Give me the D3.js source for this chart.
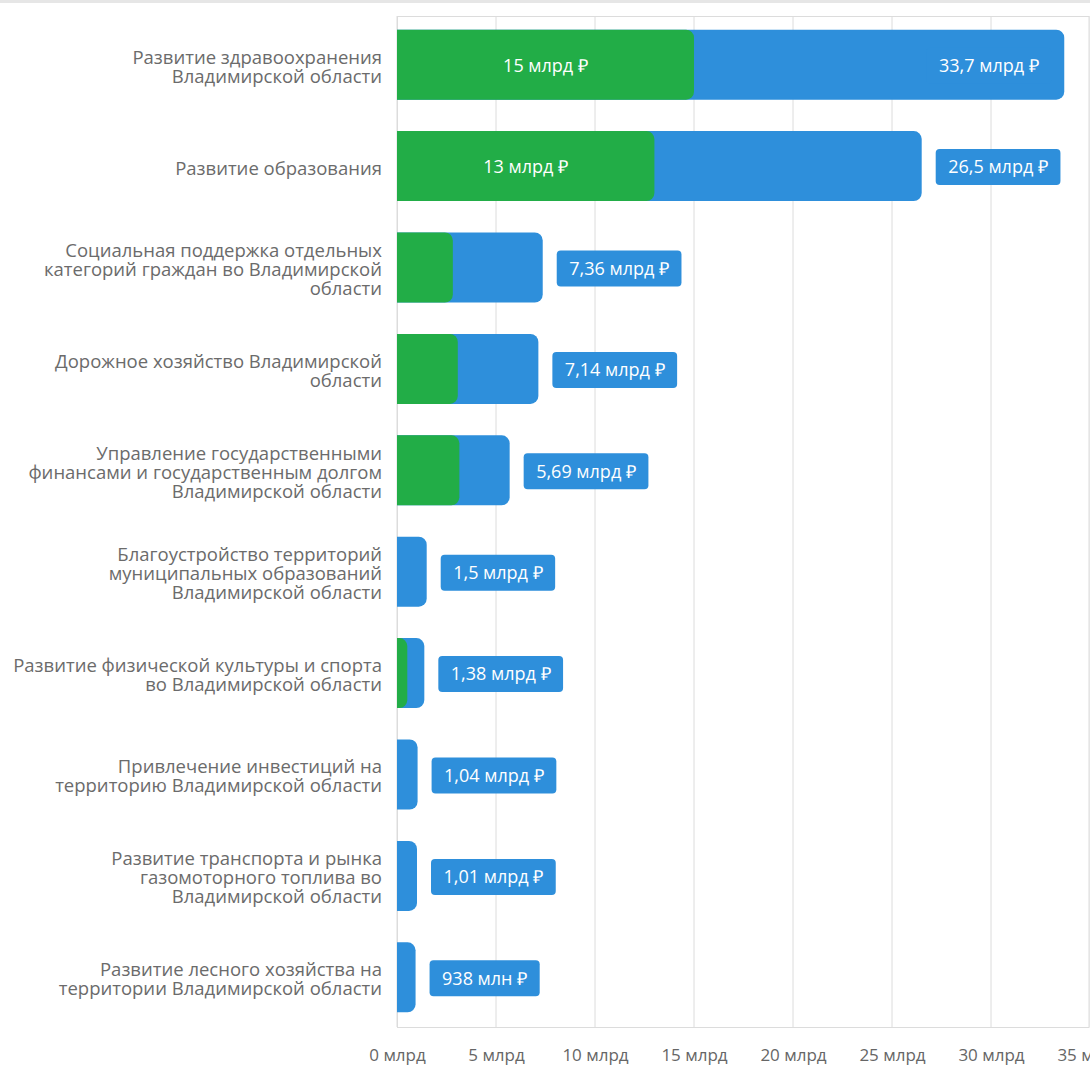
<!DOCTYPE html>
<html>
<head>
<meta charset="utf-8">
<script src="https://cdn.jsdelivr.net/npm/d3@7"></script>
<style>
  body { margin: 0; background: #fff; }
  text { font-family: "Open Sans", sans-serif; }
</style>
</head>
<body>
<div id="chart"></div>
<script>
var svgWidth = 1090;
var svgHeight = 1074;

// program names, line breaks as in the picture
var categories = [
  "Развитие здравоохранения\nВладимирской области",
  "Развитие образования",
  "Социальная поддержка отдельных\nкатегорий граждан во Владимирской\nобласти",
  "Дорожное хозяйство Владимирской\nобласти",
  "Управление государственными\nфинансами и государственным долгом\nВладимирской области",
  "Благоустройство территорий\nмуниципальных образований\nВладимирской области",
  "Развитие физической культуры и спорта\nво Владимирской области",
  "Привлечение инвестиций на\nтерриторию Владимирской области",
  "Развитие транспорта и рынка\nгазомоторного топлива во\nВладимирской области",
  "Развитие лесного хозяйства на\nтерритории Владимирской области"
];

// totals, billions of rubles
var totalValues = [33.7, 26.5, 7.36, 7.14, 5.69, 1.5, 1.38, 1.04, 1.01, 0.938];
// green part, billions of rubles
var greenValues = [15, 13, 2.82, 3.07, 3.15, 0, 0.52, 0, 0, 0.25];

var totalLabels = ["33,7 млрд ₽", "26,5 млрд ₽", "7,36 млрд ₽", "7,14 млрд ₽", "5,69 млрд ₽",
  "1,5 млрд ₽", "1,38 млрд ₽", "1,04 млрд ₽", "1,01 млрд ₽", "938 млн ₽"];
var greenLabels = ["15 млрд ₽", "13 млрд ₽", "", "", "", "", "", "", "", ""];

var xTicks = [0, 5, 10, 15, 20, 25, 30, 35];

var plot = { left: 397, right: 1090, top: 16, bottom: 1027 };

var blue = "#2e8fdb";
var green = "#22ad47";

var svg = d3.select("#chart")
  .append("svg")
  .attr("width", svgWidth)
  .attr("height", svgHeight);

// thin grey strip on top of the page
svg.append("rect")
  .attr("x", 0).attr("y", 0)
  .attr("width", svgWidth).attr("height", 3)
  .attr("fill", "#e6e6e6");

var x = d3.scaleLinear()
  .domain([0, 35])
  .range([plot.left, plot.right]);

var y = d3.scaleBand()
  .domain(d3.range(categories.length))
  .range([14, 1028])
  .paddingInner(0.31)
  .paddingOuter(0.155);

// gridlines
svg.append("g")
  .selectAll("line")
  .data(xTicks)
  .enter()
  .append("line")
  .attr("x1", d => x(d))
  .attr("x2", d => x(d))
  .attr("y1", plot.top)
  .attr("y2", plot.bottom)
  .attr("stroke", "#dcdcdc")
  .attr("stroke-width", 1);

// frame
svg.append("rect")
  .attr("x", plot.left + 0.5)
  .attr("y", plot.top + 0.5)
  .attr("width", plot.right - plot.left - 1.5)
  .attr("height", plot.bottom - plot.top)
  .attr("fill", "none")
  .attr("stroke", "#dcdcdc");

// x axis labels
var xAxis = svg.append("g")
  .attr("transform", `translate(0, ${plot.bottom})`)
  .call(d3.axisBottom(x).tickValues(xTicks).tickSize(0).tickPadding(22)
    .tickFormat(d => d + " млрд"));
xAxis.select(".domain").remove();
xAxis.selectAll("text")
  .attr("fill", "#666")
  .style("font-size", "17px")
  .style("font-family", "'Open Sans', sans-serif");

// bar with square left side and rounded right corners
function barPath(x0, x1, y0, h, r) {
  var w = x1 - x0;
  r = Math.min(r, w, h / 2);
  return `M${x0},${y0}H${x1 - r}A${r},${r} 0 0 1 ${x1},${y0 + r}` +
    `V${y0 + h - r}A${r},${r} 0 0 1 ${x1 - r},${y0 + h}H${x0}Z`;
}

var rows = svg.append("g")
  .selectAll("g")
  .data(categories)
  .enter()
  .append("g");

rows.append("path")
  .attr("d", (d, i) => barPath(x(0), x(totalValues[i]), y(i), y.bandwidth(), 8))
  .attr("fill", blue);

rows.filter((d, i) => greenValues[i] > 0)
  .append("path")
  .attr("d", (d, i) => barPath(x(0), x(greenValues[i]), y(i), y.bandwidth(), 8))
  .attr("fill", green);

// category labels
rows.each(function(d, i) {
  var lines = d.split("\n");
  var lh = 19;
  var cy = y(i) + y.bandwidth() / 2 + 2;
  var t = d3.select(this).append("text")
    .attr("text-anchor", "end")
    .attr("fill", "#6b6b6b")
    .style("font-size", "18.5px");
  lines.forEach(function(line, k) {
    t.append("tspan")
      .attr("x", plot.left - 15)
      .attr("y", cy + (k - (lines.length - 1) / 2) * lh)
      .attr("dy", "0.35em")
      .text(line);
  });
});

// total value labels in boxes
rows.each(function(d, i) {
  var g = d3.select(this);
  var cy = y(i) + y.bandwidth() / 2 + 1;
  var box = g.append("rect")
    .attr("fill", blue)
    .attr("rx", 4);
  var t = g.append("text")
    .attr("fill", "#fff")
    .attr("text-anchor", "middle")
    .attr("dy", "0.35em")
    .attr("y", cy)
    .style("font-size", "18px")
    .text(totalLabels[i]);
  var tw = t.node().getComputedTextLength();
  var bw = tw + 25, bh = 36;
  var end = x(totalValues[i]);
  var bx = end + 14;
  if (bx + bw > plot.right) bx = end - 13 - bw;
  box.attr("x", bx).attr("y", cy - bh / 2).attr("width", bw).attr("height", bh);
  t.attr("x", bx + bw / 2);

  if (greenLabels[i]) {
    g.append("text")
      .attr("fill", "#fff")
      .attr("text-anchor", "middle")
      .attr("dy", "0.35em")
      .attr("x", (x(0) + x(greenValues[i])) / 2)
      .attr("y", cy)
      .style("font-size", "18px")
      .text(greenLabels[i]);
  }
});
</script>
</body>
</html>
